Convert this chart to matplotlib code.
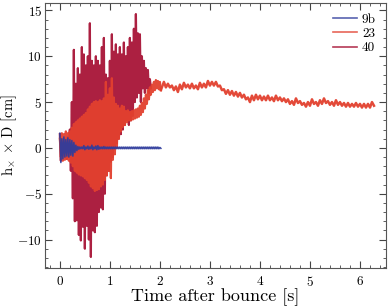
import numpy as np
import matplotlib
matplotlib.use('Agg')  # no display
import matplotlib.pyplot as plt
from matplotlib.ticker import MultipleLocator

# strain envelopes: upper / lower value at each sample time [cm]
# model 9b
t_9b = np.linspace(0.0, 2.0, 51)
hi_9b = [1.6, 1.0, 1.2, 0.9, 1.1, 0.9, 0.8, 0.6, 0.3, 0.15,
         0.1, 0.1, 0.25, 0.1, 0.2, 0.1, 0.3, 0.1, 0.2, 0.25,
         0.1, 0.1, 0.15, 0.1, 0.1, 0.1, 0.1, 0.1, 0.1, 0.1,
         0.1, 0.1, 0.1, 0.1, 0.1, 0.1, 0.1, 0.1, 0.1, 0.1,
         0.1, 0.1, 0.1, 0.1, 0.1, 0.1, 0.1, 0.1, 0.1, 0.1, 0.05]
lo_9b = [-1.6, -1.2, -1.0, -0.9, -1.0, -0.8, -0.9, -0.5, -0.3, -0.15,
         -0.1, -0.1, -0.2, -0.1, -0.15, -0.1, -0.2, -0.1, -0.2, -0.15,
         -0.1, -0.1, -0.1, -0.1, -0.1, -0.1, -0.1, -0.1, -0.1, -0.1,
         -0.1, -0.1, -0.1, -0.1, -0.1, -0.1, -0.1, -0.1, -0.1, -0.1,
         -0.1, -0.1, -0.1, -0.1, -0.1, -0.1, -0.1, -0.1, -0.1, -0.1, -0.05]

# model 23, early (dense) part
t_23a = np.linspace(0.0, 2.0, 51)
hi_23a = [1.0, 1.6, 1.5, 1.8, 1.6, 1.8, 2.2, 2.6, 2.8, 3.0,
          3.2, 3.4, 3.6, 3.8, 4.2, 4.5, 4.8, 5.0, 5.1, 5.0,
          5.2, 5.1, 5.4, 7.2, 5.8, 6.5, 7.6, 5.5, 4.8, 4.6,
          4.3, 4.6, 4.5, 4.0, 4.1, 3.9, 4.0, 4.1, 4.2, 4.3,
          4.6, 4.9, 5.4, 5.8, 6.3, 6.6, 6.9, 7.2, 7.4, 7.3, 7.2]
lo_23a = [-1.0, -1.4, -1.3, -1.2, -1.4, -1.6, -2.0, -2.5, -2.7, -2.9,
          -3.0, -3.1, -3.3, -3.5, -3.8, -4.2, -4.4, -4.7, -4.6, -4.5,
          -4.2, -4.0, -3.5, -3.0, -2.5, -3.3, -1.3, -0.7, 0.0, 1.0,
          1.8, 2.3, 2.5, 2.8, 3.0, 3.0, 3.1, 3.2, 3.3, 3.4,
          3.6, 3.9, 4.3, 4.8, 5.3, 5.8, 6.1, 6.3, 6.5, 6.4, 6.3]
# model 23, late part
t_23b = np.linspace(2.08, 6.24, 53)
hi_23b = [7.2, 7.0, 6.8, 6.7, 6.9, 7.1, 6.9, 7.0, 6.8, 7.1,
          7.0, 7.3, 7.2, 7.2, 6.8, 6.4, 6.3, 6.2, 6.1, 6.0,
          5.8, 5.5, 5.7, 5.8, 5.7, 5.6, 5.7, 5.5, 5.7, 5.5,
          5.4, 5.3, 5.1, 5.4, 5.1, 4.9, 5.0, 5.3, 5.0, 5.2,
          5.4, 5.1, 5.0, 5.2, 5.0, 4.9, 4.9, 4.8, 4.9, 4.8,
          4.8, 4.8, 5.0]
lo_23b = [6.6, 6.6, 6.3, 6.1, 6.4, 6.6, 6.5, 6.5, 6.4, 6.6,
          6.6, 6.8, 6.8, 6.7, 6.3, 5.9, 5.8, 5.7, 5.6, 5.5,
          5.3, 5.0, 5.2, 5.3, 5.2, 5.2, 5.2, 5.1, 5.2, 5.1,
          5.0, 4.8, 4.7, 4.9, 4.7, 4.5, 4.6, 4.8, 4.6, 4.8,
          4.9, 4.7, 4.6, 4.7, 4.6, 4.5, 4.5, 4.5, 4.5, 4.4,
          4.4, 4.4, 4.6]

# model 40
t_40 = np.linspace(0.0, 1.80, 46)
hi_40 = [1.5, 0.8, 1.0, 0.9, 1.2, 2.0, 5.0, 10.7, 7.0, 8.7,
         8.0, 11.0, 10.2, 9.0, 10.0, 13.6, 9.5, 9.0, 10.0, 9.5,
         9.0, 11.0, 12.0, 8.0, 7.6, 9.5, 12.4, 10.5, 11.3, 10.2,
         11.0, 10.2, 11.5, 10.0, 11.0, 12.0, 11.5, 13.0, 14.6, 12.5,
         12.4, 10.0, 9.5, 8.7, 8.5, 7.5]
lo_40 = [-1.4, -0.8, -1.0, -1.2, -1.0, -2.5, -5.5, -8.0, -7.9, -9.5,
         -10.1, -8.6, -11.0, -8.5, -10.0, -11.9, -9.0, -9.2, -8.5, -7.0,
         -6.5, -6.7, -5.0, -3.0, -2.5, -1.5, -1.0, 0.0, 0.5, 1.0,
         1.5, 2.0, 2.5, 3.0, 2.5, 3.0, 3.5, 5.0, 5.5, 6.0,
         5.0, 6.5, 6.0, 6.5, 6.0, 6.5]


def zigzag(t, hi, lo):
    # noisy line: jump between upper and lower value within each sample step
    t = np.asarray(t)
    dt = t[1] - t[0]
    x = np.column_stack([t, t + dt / 2]).ravel()
    y = np.column_stack([hi, lo]).ravel()
    return x, y


plt.rcParams['font.family'] = 'serif'
plt.rcParams['font.serif'] = ['cmr10', 'DejaVu Serif']
plt.rcParams['mathtext.fontset'] = 'cm'
plt.rcParams['axes.formatter.use_mathtext'] = True
plt.rcParams['axes.unicode_minus'] = True

cor_9b = '#2f3c9c'
cor_23 = '#e2402e'
cor_40 = '#a3082c'

fig = plt.figure(figsize=(3.9, 3.08), dpi=100)
ax = fig.add_axes([0.115, 0.130, 0.876, 0.860])

x, y = zigzag(t_9b, hi_9b, lo_9b)
ax.plot(x, y, color=cor_9b, lw=1.1, alpha=0.95, zorder=3, label='9b')
xa, ya = zigzag(t_23a, hi_23a, lo_23a)
ax.plot(xa, ya, color=cor_23, lw=1.6, alpha=0.95, zorder=2, label='23')
xb, yb = zigzag(t_23b, hi_23b, lo_23b)
ax.plot(np.concatenate([xa[-1:], xb]), np.concatenate([ya[-1:], yb]),
        color=cor_23, lw=1.8, alpha=0.95, zorder=2)
x, y = zigzag(t_40, hi_40, lo_40)
ax.plot(x, y, color=cor_40, lw=1.6, alpha=0.9, zorder=1, label='40')

ax.set_xlim(-0.3, 6.53)
ax.set_ylim(-13.1, 15.8)
ax.xaxis.set_major_locator(MultipleLocator(1))
ax.xaxis.set_minor_locator(MultipleLocator(0.2))
ax.yaxis.set_major_locator(MultipleLocator(5))
ax.yaxis.set_minor_locator(MultipleLocator(1))
ax.tick_params(which='both', direction='in', top=True, right=True, colors='#444444')
ax.tick_params(which='major', length=5, width=0.8, labelsize=9.5, labelcolor='black')
ax.tick_params(which='minor', length=2.5, width=0.6)
ax.tick_params(axis='x', pad=5)
ax.tick_params(axis='y', pad=2)
for s in ax.spines.values():
    s.set_color('#555555')
    s.set_linewidth(0.8)

ax.set_xlabel('Time after bounce [s]', fontsize=13)
ax.xaxis.set_label_coords(0.5, -0.078)
ax.set_ylabel(r'$\mathrm{h}_{\times}$ $\times$ D [cm]', fontsize=10.5)
ax.yaxis.set_label_coords(-0.075, 0.5)

leg = ax.legend(loc='upper right', frameon=False, fontsize=9.5, handlelength=1.8,
                handletextpad=0.4, labelspacing=0.15, borderaxespad=0.4)
for h in leg.get_lines():
    h.set_linewidth(1.2)
    h.set_alpha(0.8)

plt.savefig('out.png', dpi=100)
plt.close()
